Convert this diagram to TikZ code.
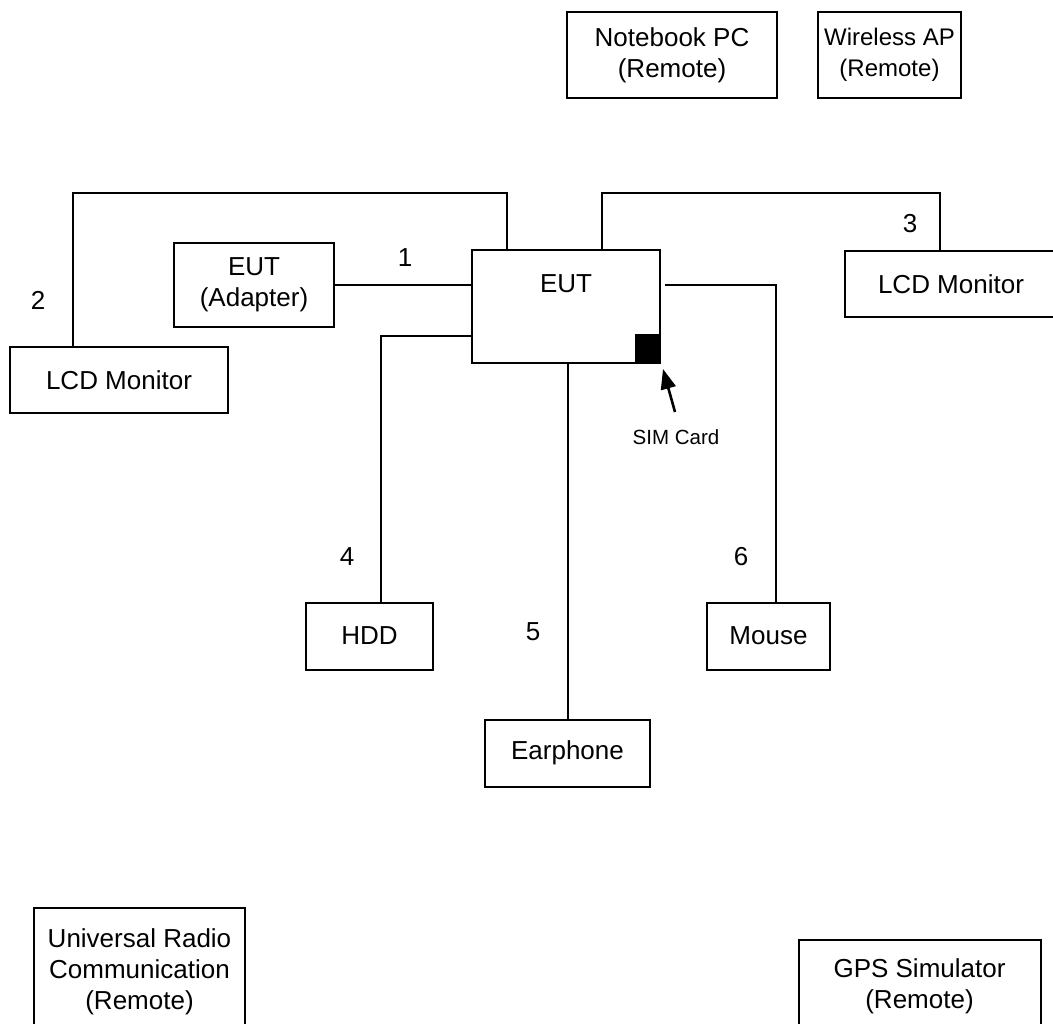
\documentclass[tikz,border=0pt]{standalone}
\usepackage{fontspec}
\setmainfont{Liberation Sans}
\usetikzlibrary{positioning, arrows.meta, shapes}

\begin{document}
\begin{tikzpicture}[x=1pt, y=-1pt, line width=2pt,
        unit/.style={draw, line width=2pt, align=center, inner sep=0pt,
            font=\fontsize{26}{31}\selectfont},
        num/.style={inner sep=0pt, font=\fontsize{26}{31}\selectfont}]
        \useasboundingbox (0,0) rectangle (1053,1024);

        % --- Remote units at the top ---
        \node[unit, minimum width=210, minimum height=86] (notebook) at (672,55) {Notebook PC\\(Remote)};
        \node[unit, minimum width=143, minimum height=86, font=\fontsize{24}{31}\selectfont]
            (wlan) at (889.5,55) {Wireless AP\\(Remote)};

        % --- EUT with SIM card ---
        \node[unit, minimum width=188, minimum height=113] (eut) at (566,306.5) {};
        \node[num] (euttitle) at (566,284) {EUT};
        \node[fill, draw, line width=1pt, minimum width=25, minimum height=29, inner sep=0pt,
            anchor=south east] (sim) at (eut.south east) {};
        \node[inner sep=0pt, font=\fontsize{20.5}{24}\selectfont] (simtxt) at (676,437) {SIM Card};
        \coordinate (simtail) at (675,412);
        \draw[-{Triangle[length=20pt, width=15pt]}, line width=2.6pt]
            (simtail) -- ([shift={(2,5)}]sim.south east);

        % --- Support units ---
        \node[unit, minimum width=160, minimum height=84] (adapter) at (254,285) {EUT\\(Adapter)};
        \node[unit, minimum width=218, minimum height=66] (lcdl) at (119,380) {LCD Monitor};
        \node[unit, minimum width=212, minimum height=66] (lcdr) at (951,284) {LCD Monitor};
        \node[unit, minimum width=127, minimum height=67] (hdd) at (369.5,636) {HDD};
        \node[unit, minimum width=123, minimum height=67] (mouse) at (768.5,636) {Mouse};
        \node[unit, minimum width=165, minimum height=67] (ear) at (567.5,753) {Earphone};

        % --- Remote units at the bottom ---
        \node[unit, minimum width=211, minimum height=128] (urc) at (139.5,972) {Universal Radio\\Communication\\(Remote)};
        \node[unit, minimum width=242, minimum height=92] (gps) at (919.5,986) {GPS Simulator\\(Remote)};

        % --- Cables ---
        \coordinate (c2a) at (73,193);
        \coordinate (c2b) at (507,193);
        \coordinate (c3a) at (602,193);
        \coordinate (c3b) at (940,193);
        \coordinate (c4) at (381,336);
        \coordinate (c6) at (776,285);
        \draw (adapter.east) -- (eut.west |- adapter.east);
        \draw (lcdl.north -| c2a) -- (c2a) -- (c2b) -- (eut.north -| c2b);
        \draw (eut.north -| c3a) -- (c3a) -- (c3b) -- (lcdr.north -| c3b);
        \draw (eut.west |- c4) -- (c4) -- (hdd.north -| c4);
        \draw (eut.south -| ear.north) -- (ear.north);
        \draw ([xshift=4pt]eut.east |- c6) -- (c6) -- (mouse.north -| c6);

        % cable numbers
        \foreach \n/\x/\y in {1/405/258, 2/38/300, 3/910/224, 4/347/557, 5/533/632, 6/741/557}
            \node[num] (cab\n) at (\x,\y) {\n};
    \end{tikzpicture}
\end{document}
